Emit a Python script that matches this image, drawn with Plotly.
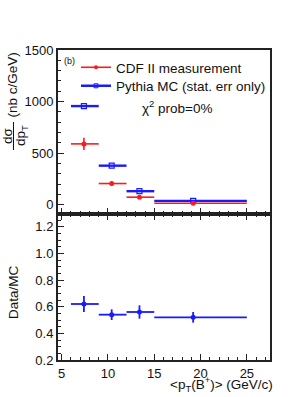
import plotly.graph_objects as go

# ---------------- data ----------------
bin_lo = [6, 9, 12, 15]
bin_hi = [9, 12, 15, 25]
pt_mean = [7.4, 10.4, 13.4, 19.2]

cdf_xsec = [591, 207, 75, 16]
cdf_err = [60, 18, 12, 5]

mc_xsec = [957, 380, 133, 39]
mc_err = [6, 4, 3, 1]

ratio = [0.62, 0.54, 0.56, 0.52]
ratio_err = [0.06, 0.04, 0.05, 0.04]

edge_x = [5, 27]
edge_y = [-88, -88]

legend_labels = ["CDF II measurement", "Pythia MC (stat. err only)"]
chi2_label = "χ<sup>2</sup> prob=0%"
panel_label = "(b)"

# ---------------- layout helpers ----------------
W, H = 307, 397
ML, MR, MT, MB = 58, 37, 50, 37
PW, PH = W - ML - MR, H - MT - MB


def px(x):
    return (x - ML) / PW


def py(y):
    return (H - MB - y) / PH


split = py(214)
FONT = "Liberation Sans, Arial, Helvetica, sans-serif"
RED = "#ff1a1a"
BLUE = "#1a1aff"

err_plus = [h - m for h, m in zip(bin_hi, pt_mean)]
err_minus = [m - l for m, l in zip(pt_mean, bin_lo)]

fig = go.Figure()

# MC (blue open squares, thick lines)
fig.add_trace(go.Scatter(
    x=pt_mean, y=mc_xsec, mode="markers", showlegend=False,
    marker=dict(symbol="square-open", size=5, color=BLUE, line=dict(width=1.2)),
    error_x=dict(type="data", symmetric=False, array=err_plus, arrayminus=err_minus,
                 color=BLUE, thickness=2.4, width=0),
    error_y=dict(type="data", array=mc_err, color=BLUE, thickness=2.4, width=0),
    xaxis="x", yaxis="y", cliponaxis=False,
))
# Data (red filled circles)
fig.add_trace(go.Scatter(
    x=pt_mean, y=cdf_xsec, mode="markers", showlegend=False,
    marker=dict(symbol="circle", size=5, color=RED),
    error_x=dict(type="data", symmetric=False, array=err_plus, arrayminus=err_minus,
                 color=RED, thickness=1.6, width=0),
    error_y=dict(type="data", array=cdf_err, color=RED, thickness=1.6, width=0),
    xaxis="x", yaxis="y", cliponaxis=False,
))
# edge markers
fig.add_trace(go.Scatter(
    x=edge_x, y=edge_y, mode="markers", showlegend=False,
    marker=dict(symbol="circle", size=4, color=RED),
    xaxis="x", yaxis="y", cliponaxis=False,
))
fig.add_trace(go.Scatter(
    x=edge_x, y=edge_y, mode="markers", showlegend=False,
    marker=dict(symbol="square", size=4, color=BLUE, opacity=0.5),
    xaxis="x", yaxis="y", cliponaxis=False,
))

# legend entries
fig.add_trace(go.Scatter(
    x=[None], y=[None], mode="lines+markers", name=legend_labels[0],
    line=dict(color=RED, width=1.6),
    marker=dict(symbol="circle", size=4, color=RED),
    xaxis="x", yaxis="y", legend="legend",
))
fig.add_trace(go.Scatter(
    x=[None], y=[None], mode="lines+markers", name=legend_labels[1],
    line=dict(color=BLUE, width=2.4),
    marker=dict(symbol="square-open", size=4, color=BLUE, line=dict(width=1)),
    xaxis="x", yaxis="y", legend="legend2",
))

# Ratio panel
fig.add_trace(go.Scatter(
    x=pt_mean, y=ratio, mode="markers", showlegend=False,
    marker=dict(symbol="circle", size=5, color=BLUE),
    error_x=dict(type="data", symmetric=False, array=err_plus, arrayminus=err_minus,
                 color=BLUE, thickness=1.8, width=0),
    error_y=dict(type="data", array=ratio_err, color=BLUE, thickness=1.8, width=0),
    xaxis="x2", yaxis="y2",
))

axis_common = dict(
    showline=True, linecolor="#222", linewidth=2, ticks="inside",
    tickcolor="#222", tickwidth=1.2, showgrid=False, zeroline=False,
    tickfont=dict(family=FONT, size=13, color="#111"),
)

xrange = [4.6, 27.5]
leg_common = dict(xanchor="left", yanchor="middle", bgcolor="rgba(0,0,0,0)",
                  borderwidth=0, font=dict(family=FONT, size=13.5, color="#111"),
                  itemwidth=30)

fig.update_layout(
    width=W, height=H,
    margin=dict(l=ML, r=MR, t=MT, b=MB, autoexpand=False),
    paper_bgcolor="white", plot_bgcolor="white",
    font=dict(family=FONT, color="#111"),
    showlegend=True,
    legend=dict(x=px(76), y=py(67.5), **leg_common),
    legend2=dict(x=px(76), y=py(86), **leg_common),
    xaxis=dict(**axis_common, domain=[0, 1], range=xrange, anchor="y",
               showticklabels=False, mirror=True, tick0=5, dtick=5, ticklen=6,
               minor=dict(dtick=1, ticklen=3, ticks="inside", tickcolor="#222")),
    yaxis=dict(**axis_common, domain=[split, 1], range=[-88, 1500], anchor="x",
               mirror=True, tick0=0, dtick=500, ticklen=6,
               minor=dict(dtick=100, ticklen=3, ticks="inside", tickcolor="#222")),
    xaxis2=dict(**axis_common, domain=[0, 1], range=xrange, anchor="y2",
                mirror="ticks", tick0=5, dtick=5, ticklen=6,
                minor=dict(dtick=1, ticklen=3, ticks="inside", tickcolor="#222")),
    yaxis2=dict(**axis_common, domain=[0, split], range=[0.2, 1.295], anchor="x2",
                mirror=True, tick0=0.2, dtick=0.2, tickformat=".1f", ticklen=6,
                minor=dict(dtick=0.05, ticklen=3, ticks="inside", tickcolor="#222")),
)

ann = []
ann.append(dict(text=panel_label, x=px(62), y=py(61), xref="paper", yref="paper",
                xanchor="left", yanchor="middle", showarrow=False,
                font=dict(family=FONT, size=9, color="#111")))
ann.append(dict(text=chi2_label, x=px(177), y=py(107), xref="paper", yref="paper",
                xanchor="center", yanchor="middle", showarrow=False,
                font=dict(family=FONT, size=13.5, color="#111")))
# Y title top
ann.append(dict(text="(nb c/GeV)", x=px(12), y=py(51), xref="paper", yref="paper",
                xanchor="center", yanchor="top", textangle=-90, showarrow=False,
                font=dict(family=FONT, size=13.5, color="#111")))
ann.append(dict(text="dσ", x=px(7), y=py(136), xref="paper", yref="paper",
                xanchor="center", yanchor="middle", textangle=-90, showarrow=False,
                font=dict(family=FONT, size=13.5, color="#111")))
ann.append(dict(text="dp<sub>T</sub>", x=px(21), y=py(136), xref="paper", yref="paper",
                xanchor="center", yanchor="middle", textangle=-90, showarrow=False,
                font=dict(family=FONT, size=13.5, color="#111")))
# Y title bottom
ann.append(dict(text="Data/MC", x=px(13), y=py(292), xref="paper", yref="paper",
                xanchor="center", yanchor="middle", textangle=-90, showarrow=False,
                font=dict(family=FONT, size=13.5, color="#111")))
# X title
ann.append(dict(text="<p<sub>T</sub>(B<sup>+</sup>)> (GeV/c)", x=px(275), y=py(384),
                xref="paper", yref="paper", xanchor="right", yanchor="middle",
                showarrow=False, font=dict(family=FONT, size=13.5, color="#111")))
fig.update_layout(annotations=ann)

fig.add_shape(type="line", xref="paper", yref="paper",
              x0=px(13.5), x1=px(13.5), y0=py(122), y1=py(150),
              line=dict(color="#111", width=1))

fig.write_html("out.html",
               config={"displayModeBar": False},
               post_script="document.body.style.margin='0px';")
